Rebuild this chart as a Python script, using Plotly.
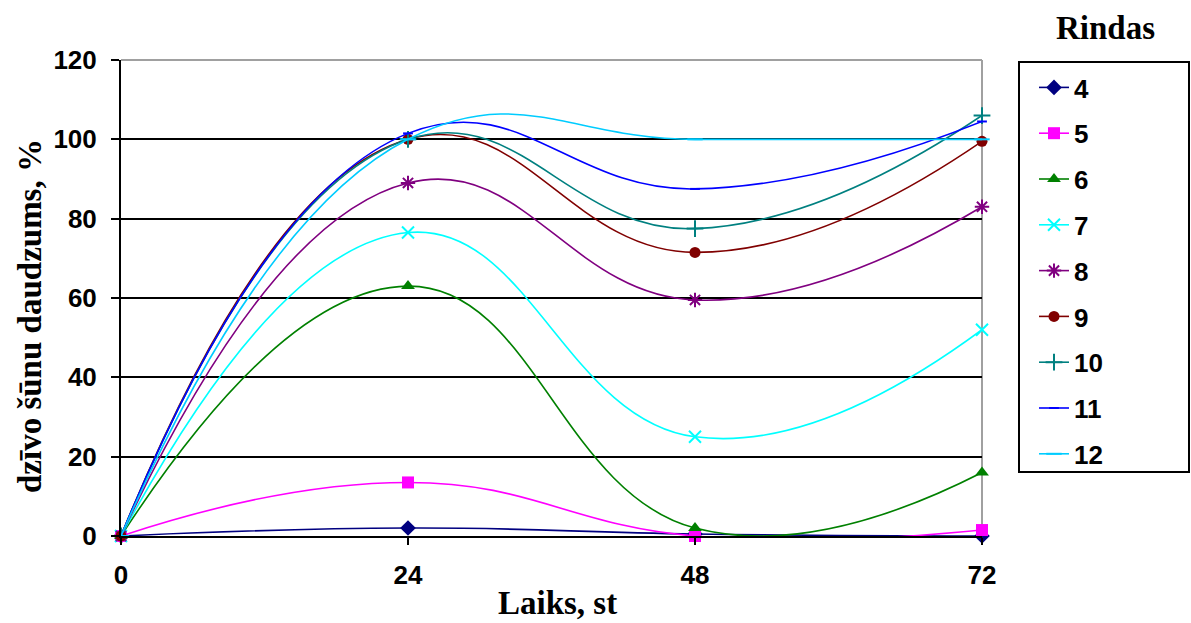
import plotly.graph_objects as go

hours = [0, 24, 48, 72]
series_names = ["4", "5", "6", "7", "8", "9", "10", "11", "12"]
s4 = [0, 2, 0.5, 0]
s5 = [0, 13.5, 0, 1.5]
s6 = [0, 63, 2, 16]
s7 = [0, 76.5, 25, 52]
s8 = [0, 89, 59.5, 83]
s9 = [0, 100, 71.5, 99.5]
s10 = [0, 100, 77.5, 106]
s11 = [0, 101.5, 87.5, 104.5]
s12 = [0, 100, 100, 100]
all_series = [s4, s5, s6, s7, s8, s9, s10, s11, s12]

colors = ["#000080", "#FF00FF", "#008000", "#00FFFF", "#800080",
          "#800000", "#008080", "#0000FF", "#00CCFF"]
symbols = ["diamond", "square", "triangle-up", "x-thin-open", "asterisk-open",
           "circle", "cross-thin-open", "line-ew-open", "line-ew-open"]
msizes = [12, 12, 12, 12, 12, 11, 12, 7, 11]

tick_font = dict(family="Liberation Sans, Arial, sans-serif", size=26, color="black", weight="bold")
title_font = dict(family="Liberation Serif, Times New Roman, serif", size=33, color="black", weight="bold")

fig = go.Figure()
for i, (name, vals) in enumerate(zip(series_names, all_series)):
    fig.add_trace(go.Scatter(
        x=hours, y=vals, name=name, mode="lines+markers",
        line=dict(color=colors[i], width=1.6, shape="spline", smoothing=1.3),
        marker=dict(symbol=symbols[i], size=msizes[i], color=colors[i],
                    line=dict(color=colors[i], width=2 if "open" in symbols[i] else 0)),
        cliponaxis=False, legendgroup=name,
    ))

px_w, px_h = 861, 476
def xp(px):
    return (px - 121) / px_w
def yp(py):
    return (536 - py) / px_h

fig.update_layout(
    width=1191, height=623,
    margin=dict(l=121, r=209, t=60, b=87, autoexpand=False),
    paper_bgcolor="white", plot_bgcolor="white",
    showlegend=True,
    legend=dict(
        x=xp(1034), y=yp(64), xanchor="left", yanchor="top",
        borderwidth=0, bgcolor="rgba(0,0,0,0)",
        font=dict(family="Liberation Sans, Arial, sans-serif", size=26, color="black", weight="bold"),
        tracegroupgap=9, traceorder="grouped",
    ),
    xaxis=dict(
        range=[0, 72], tickvals=hours, ticktext=[str(h) for h in hours],
        showgrid=False, zeroline=False, showline=True, linecolor="black", linewidth=2,
        ticks="outside", ticklen=7, tickcolor="black", tickwidth=2,
        tickfont=tick_font, ticklabelstandoff=8,
    ),
    yaxis=dict(
        range=[0, 120], tickvals=[0, 20, 40, 60, 80, 100, 120],
        showgrid=True, gridcolor="black", gridwidth=2, zeroline=False,
        showline=True, linecolor="black", linewidth=2,
        ticks="outside", ticklen=8, tickcolor="black", tickwidth=2,
        tickfont=tick_font, ticklabelstandoff=9,
    ),
    shapes=[
        dict(type="line", xref="paper", yref="paper", x0=0, x1=1, y0=1, y1=1,
             line=dict(color="#A0A0A0", width=2), layer="above"),
        dict(type="line", xref="paper", yref="paper", x0=1, x1=1, y0=0, y1=1,
             line=dict(color="#A0A0A0", width=2), layer="below"),
        dict(type="rect", xref="paper", yref="paper", x0=xp(1019), x1=xp(1189),
             y0=yp(472), y1=yp(62), line=dict(color="black", width=2),
             fillcolor="white", layer="below"),
    ],
    annotations=[
        dict(text="Rindas", xref="paper", yref="paper",
             x=xp(1105), y=yp(28), xanchor="center", yanchor="middle",
             showarrow=False, font=title_font),
        dict(text="Laiks, st", xref="paper", yref="paper",
             x=xp(557), y=yp(603), xanchor="center", yanchor="middle",
             showarrow=False, font=title_font),
        dict(text="dzīvo šūnu daudzums, %", xref="paper", yref="paper",
             x=xp(30), y=yp(316), xanchor="center", yanchor="middle", textangle=-90,
             showarrow=False, font=title_font),
    ],
)

fig.write_html("out.html")
